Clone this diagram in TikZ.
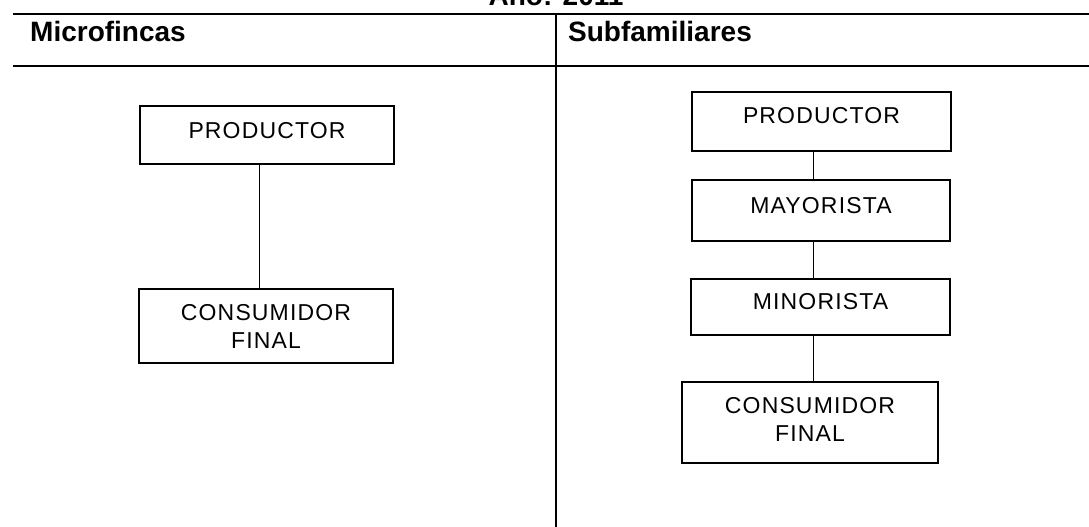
\documentclass[tikz,border=0pt]{standalone}
\usepackage{fontspec}
\setmainfont{Liberation Sans}
\newfontfamily\boxfont[LetterSpace=5]{Liberation Sans}
\begin{document}
\begin{tikzpicture}[x=1pt,y=-1pt,
  hdr/.style={font=\fontsize{28}{32}\selectfont\bfseries, inner sep=0pt},
  chbox/.style={draw=black, line width=1.2pt, minimum width=#1, inner sep=0pt},
  lbl/.style={font=\boxfont\fontsize{23}{28}\selectfont, inner sep=0pt, align=center},
  rule/.style={line width=2pt},
  link/.style={line width=1pt}]
\useasboundingbox (0,0) rectangle (1089,527);
\fill[white] (0,0) rectangle (1089,527);

% table frame
\coordinate (tl) at (13,14);
\coordinate (tr) at (1089,14);
\coordinate (ml) at (13,66);
\coordinate (mr) at (1089,66);
\coordinate (dt) at (556,14);
\coordinate (db) at (556,527);
\draw[rule] (tl) -- (tr);
\draw[rule] (ml) -- (mr);
\draw[line width=1.3pt] (dt) -- (db);

\node[hdr, anchor=base] (title) at (556,6) {Año: 2011};
\node[hdr, anchor=base west] (h1) at (30,42) {Microfincas};
\node[hdr, anchor=base west] (h2) at (568,42) {Subfamiliares};

% left column
\node[chbox=254pt, minimum height=58pt] (lp) at (267,135) {};
\node[chbox=254pt, minimum height=74pt] (lc) at (266,326) {};
\node[lbl] (lpt) at ([yshift=4pt]lp.center) {PRODUCTOR};
\node[lbl] (lct) at (lc.center) {CONSUMIDOR\\FINAL};
\coordinate (lx) at (259,0);
\draw[link] (lp.south -| lx) -- (lc.north -| lx);

% right column
\node[chbox=259pt, minimum height=59pt] (rp) at (821.5,121.5) {};
\node[chbox=258pt, minimum height=61pt] (rm) at (821,210.5) {};
\node[chbox=259pt, minimum height=56pt] (rn) at (820.5,307) {};
\node[chbox=256pt, minimum height=81pt] (rc) at (810,422.5) {};
\node[lbl] (rpt) at ([yshift=6pt]rp.center) {PRODUCTOR};
\node[lbl] (rmt) at ([yshift=4.5pt]rm.center) {MAYORISTA};
\node[lbl] (rnt) at ([yshift=5pt]rn.center) {MINORISTA};
\node[lbl] (rct) at ([yshift=3pt]rc.center) {CONSUMIDOR\\FINAL};
\coordinate (rx) at (813,0);
\draw[link] (rp.south -| rx) -- (rm.north -| rx);
\draw[link] (rm.south -| rx) -- (rn.north -| rx);
\draw[link] (rn.south -| rx) -- (rc.north -| rx);
\end{tikzpicture}
\end{document}
